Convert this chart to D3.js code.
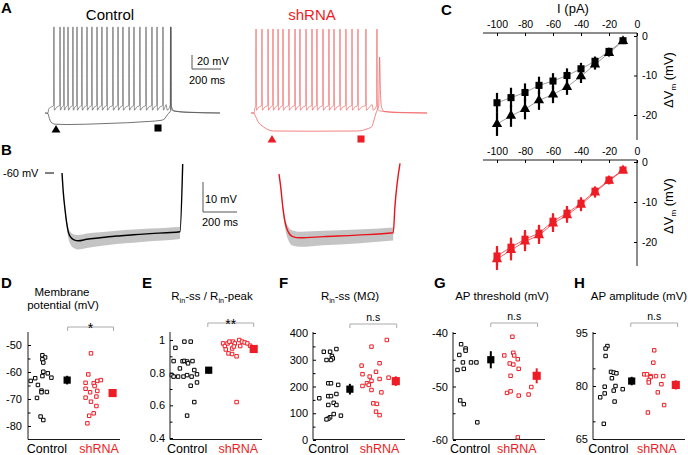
<!DOCTYPE html>
<html><head><meta charset="utf-8">
<script src="https://cdn.jsdelivr.net/npm/d3@7/dist/d3.min.js"></script>
<style>
html,body{margin:0;padding:0;background:#fff;}
svg{display:block;}
text{font-family:"Liberation Sans",Arial,Helvetica,sans-serif;}
</style></head>
<body><svg width="688" height="455"></svg>
<script>
// ===================== DATA =====================
// A: current-clamp sweeps. spike times in ms after step onset
const aCtrlSpikes=[41,83,110,138,172,200,234,269,303,338,372,407,448,483,517,559,593,634,676,717,752,793];
const aCtrlOffsetSpike=845;
const aShSpikes=[14,55,97,131,166,200,241,283,317,359,400,434,476,517,552,593,634,676,717,772];
const aShOffsetSpike=848;
const aRest=-60, aThresh=-49, aAHP=-56, aPeakCtrl=63, aPeakSh=60;
const aCtrlEnd=1186, aShEnd=1193;
// hyperpolarised sweeps [ms],[mV]
const aCtrlHyperT=[-20,0,7,21,50,130,400,700,780,805,825,840,846,848,850,870,950,1186];
const aCtrlHyperV=[-60,-61,-66,-73,-76,-76.5,-75,-72,-70.5,-68,-62,-58.5,-56,63,-50,-57,-59,-60];
const aShHyperT=[-20,0,7,30,64,133,400,708,790,812,834,845,860,866,872,880,900,1000,1193];
const aShHyperV=[-60,-60,-63,-73,-79.6,-85.7,-86,-85.7,-82,-79.6,-65.3,-58,-50,20,-30,-52,-58,-59.5,-60];

// B: averaged responses (mean, sem)
const bCtrlT=[0,8,18,28,37,51,71,96,145,224,322,420,518,616,694,710];
const bCtrlV=[-60,-66.7,-72.3,-76.8,-79.6,-81.4,-82.3,-82.6,-82.1,-81.6,-81.0,-80.6,-80.2,-79.9,-79.6,-57];
const bCtrlSem=[0,0.3,0.8,1.3,1.7,2.1,2.3,2.4,2.4,2.3,2.2,2.2,2.1,2.1,2.0,0];
const bShT=[0,10,22,35,54,80,124,261,457,672,682,712];
const bShV=[-60.4,-64.6,-71.2,-76.2,-79.6,-81.2,-81.6,-81.2,-80.7,-79.9,-71.2,-56.8];
const bShSem=[0,0.4,1.0,1.6,2.2,2.5,2.5,2.4,2.3,2.2,0,0];

// C: I-V relations
const ivCurrents=[-100,-90,-80,-70,-60,-50,-40,-30,-20,-10];
const ivCtrlSq=[-16.9,-15.6,-14.3,-12.5,-11.4,-10.0,-8.3,-6.4,-3.9,-1.2];
const ivCtrlSqErr=[2.5,2.5,2.3,2.2,2.0,1.8,1.5,1.2,0.8,0.6];
const ivCtrlTri=[-22.3,-20.2,-18.5,-16.3,-14.8,-12.9,-10.2,-7.2,-4.3,-1.3];
const ivCtrlTriErr=[3.0,2.8,2.6,2.4,2.2,2.0,1.7,1.3,0.9,0.6];
const ivShSq=[-23.5,-21.3,-19.3,-17.8,-14.8,-12.8,-10.3,-7.3,-4.5,-2.0];
const ivShSqErr=[2.5,2.4,2.3,2.1,2.0,1.8,1.5,1.2,0.9,0.6];
const ivShTri=[-24.3,-22.0,-19.9,-18.3,-15.4,-13.3,-10.7,-7.6,-4.7,-2.1];
const ivShTriErr=[2.7,2.6,2.4,2.2,2.1,1.9,1.6,1.3,0.9,0.6];
const ivTicksX=[-100,-80,-60,-40,-20,0];
const ivTicksY=[0,-10,-20];

// D-H: individual cells (value) + horizontal jitter (0-10 units), group mean and sem
const groups=["Control","shRNA"];
const dCtrl=[-63.3,-62.3,-53.8,-54.6,-55.3,-56.5,-64.8,-61.5,-59.9,-60.5,-62.1,-69.6,-66.9,-67.5,-67.4,-76.5,-77.8];
const dCtrlJit=[0.3,0.8,1.6,1.9,1.6,1.7,1.1,1.6,1.7,2.2,2.6,1.0,1.5,1.5,2.1,1.4,1.7];
const dSh=[-53.1,-60.9,-64.0,-64.2,-66.2,-63.3,-63.0,-65.2,-67.5,-69.1,-67.0,-69.5,-71.0,-72.6,-75.3,-76.2,-79.0];
const dShJit=[7.0,6.7,6.4,7.3,6.4,7.7,8.1,7.4,6.9,7.6,7.7,6.4,7.0,7.6,7.3,6.8,6.6];
const dMean=[-63.0,-67.8], dSem=[1.6,1.3];
const dTicks=[-50,-60,-70,-80], dMinor=[-55,-65,-75];

const eCtrl=[0.99,0.99,0.952,0.871,0.87,0.872,0.868,0.871,0.826,0.857,0.816,0.785,0.776,0.776,0.776,0.785,0.776,0.79,0.74,0.72,0.62,0.537];
const eCtrlJit=[1.6,2.3,0.6,0.4,1.4,1.6,1.9,2.5,1.1,2.0,2.7,0.2,0.4,0.9,1.5,1.9,2.4,3.0,3.0,2.3,2.7,1.9];
const eSh=[0.979,0.963,0.979,0.99,0.99,0.979,1.0,0.99,0.985,0.979,0.963,0.948,0.942,0.918,0.914,0.90,0.96,0.965,0.62];
const eShJit=[5.9,6.1,6.4,6.6,7.0,7.2,7.7,8.0,8.3,8.6,7.8,6.9,6.2,6.5,6.9,7.4,7.1,8.9,7.4];
const eMean=[0.815,0.945], eSem=[0.02,0.015];
const eTicks=[1,0.8,0.6,0.4], eMinor=[0.9,0.7,0.5];

const fCtrl=[156,330,330,314,305,299,299,340,212,212,206,164,164,172,139,131,131,91,97,85,80,77];
const fCtrlJit=[0.7,1.2,1.9,2.1,2.2,1.5,2.0,2.6,1.7,2.0,2.8,1.7,2.0,2.6,2.3,1.7,2.6,3.1,2.3,1.9,1.7,1.5];
const fSh=[374,349,278,287,246,237,255,212,221,228,233,206,187,178,137,135,106,93,202];
const fShJit=[8.2,6.5,5.4,7.4,5.5,6.3,7.0,6.0,6.5,7.4,8.4,6.2,6.5,7.6,6.7,7.1,7.0,7.4,5.5];
const fMean=[190,220], fSem=[20,18];
const fTicks=[400,300,200,100,0], fMinor=[350,250,150,50];

const gCtrl=[-42.1,-42.9,-43.3,-44.1,-45.5,-45.5,-45.5,-46.9,-46.7,-52.6,-53.3,-56.7];
const gCtrlJit=[0.9,1.4,1.4,0.7,1.1,2.0,2.6,0.5,1.2,0.8,1.2,2.7];
const gSh=[-40.7,-43.7,-44.2,-44.2,-44.9,-45.7,-45.9,-46.7,-48.0,-51.2,-50.9,-51.7,-50.1,-51.5,-59.5];
const gShJit=[6.6,6.7,6.8,5.7,7.2,6.3,6.7,7.3,6.4,6.0,6.4,7.3,8.7,8.4,7.2];
const gMean=[-45.0,-48.0], gSem=[1.6,1.4];
const gTicks=[-40,-50,-60], gMinor=[-45,-55];

const hCtrl=[91.3,90.6,88.5,84.0,83.8,83.6,82.2,79.8,80.0,78.7,79.1,77.9,76.8,75.6,69.3];
const hCtrlJit=[1.6,1.4,1.4,2.0,2.3,2.6,2.1,1.3,2.5,2.3,3.3,1.3,0.8,2.4,1.2];
const hSh=[90.1,86.6,83.3,83.3,82.8,82.5,82.8,81.7,81.0,82.8,80.5,78.2,74.6,72.5];
const hShJit=[6.8,6.7,5.7,6.0,6.4,6.4,7.0,6.2,6.2,7.8,7.6,7.2,7.9,6.1];
const hMean=[81.4,80.3], hSem=[1.2,1.3];
const hTicks=[95,80,65], hMinor=[85,70];

// ===================== DRAW =====================
const svg=d3.select("svg");
const RED="#ee1c24", TRED="#f05a5a", GRAY="#c4c4c4";
const zip=(a,b)=>a.map((d,i)=>[d,b[i]]);

function label(x,y,s,o={}){
  return svg.append("text").attr("x",x).attr("y",y).text(s)
    .attr("font-size",o.size||11).attr("font-weight",o.bold?"bold":null)
    .attr("fill",o.fill||"#000").attr("text-anchor",o.anchor||"start");
}
function rich(parent,x,y,parts,size,anchor,rot){
  const t=parent.append("text").attr("x",x).attr("y",y).attr("font-size",size)
     .attr("text-anchor",anchor||"middle");
  if(rot) t.attr("transform",`rotate(-90,${x},${y})`);
  let sub=false;
  parts.forEach(p=>{
    const isSub=p[1]===true;
    const ts=t.append("tspan").text(p[0]);
    if(isSub&&!sub){ts.attr("dy",size*0.25).attr("font-size",size*0.62);}
    if(!isSub&&sub){ts.attr("dy",-size*0.25);}
    sub=isSub;
  });
  return t;
}
// panel letters
[["A",1,13],["B",1,155],["C",441,15],["D",1,288],["E",142,288],["F",279,288],["G",434,288],["H",574,288]]
 .forEach(l=>label(l[1],l[2],l[0],{size:15,bold:true}));

// ---------- A ----------
label(110,20,"Control",{size:15,anchor:"middle"});
label(312,20,"shRNA",{size:15,anchor:"middle",fill:RED});
const yA=d3.scaleLinear().domain([-60,0]).range([113,71]);
const xAC=d3.scaleLinear().domain([0,1000]).range([48,193]);
const xAS=d3.scaleLinear().domain([0,1000]).range([254,399]);
function spiking(spikes,offset,end,peak){
  const p=[[-20,aRest],[0,aRest],[5,aAHP+2]];
  spikes.forEach((t,i)=>{
    const prev=i===0?5:spikes[i-1]+3;
    if(t-1.5-prev>6) p.push([prev+(t-1.5-prev)*0.4,aAHP+(aThresh-aAHP)*0.6]);
    p.push([t-1.5,aThresh],[t,peak],[t+1.2,-30],[t+3,aAHP]);
  });
  const last=spikes[spikes.length-1]+3;
  p.push([(last+815)/2,aAHP+4],[815,aThresh+1],[822,aAHP]);
  p.push([offset-2,aThresh],[offset,peak],[offset+1.5,-35],[offset+4,-55],[offset+30,-57.5],[offset+150,-59],[end,aRest]);
  return p;
}
function trace(xs,pts,color,w){
  svg.append("path").attr("d",d3.line().x(d=>xs(d[0])).y(d=>yA(d[1])).curve(d3.curveMonotoneX)(pts))
   .attr("fill","none").attr("stroke",color).attr("stroke-width",w);
}
trace(xAC,zip(aCtrlHyperT,aCtrlHyperV),"#444",0.75);
trace(xAC,spiking(aCtrlSpikes,aCtrlOffsetSpike,aCtrlEnd,aPeakCtrl),"#555",0.65);
trace(xAS,zip(aShHyperT,aShHyperV),TRED,0.75);
trace(xAS,spiking(aShSpikes,aShOffsetSpike,aShEnd,aPeakSh),TRED,0.65);
const tri=d3.symbol().type(d3.symbolTriangle).size(34)(), sq=d3.symbol().type(d3.symbolSquare).size(50)();
svg.append("path").attr("d",tri).attr("transform","translate(56,130)").attr("fill","#000");
svg.append("path").attr("d",sq).attr("transform","translate(158,128)").attr("fill","#000");
svg.append("path").attr("d",tri).attr("transform","translate(272,140)").attr("fill",RED);
svg.append("path").attr("d",sq).attr("transform","translate(361,139)").attr("fill",RED);
// scale bar A
svg.append("path").attr("d","M192,55V69H221").attr("fill","none").attr("stroke","#555").attr("stroke-width",1);
label(197,65,"20 mV",{size:11});
label(189,84,"200 ms",{size:11});

// ---------- B ----------
const yB=d3.scaleLinear().domain([-60,-70]).range([173,203]);
const xBC=d3.scaleLinear().domain([0,1000]).range([62,232]);
const xBS=d3.scaleLinear().domain([0,1000]).range([279,449]);
function avgTrace(xs,T,V,S,color){
  const pts=T.map((t,i)=>({t,v:V[i],s:S[i]}));
  const band=pts.filter((d,i)=>i<pts.length-1 && (d.s>0||i===0));
  svg.append("path").attr("d",d3.area().x(d=>xs(d.t)).y0(d=>yB(d.v-d.s*1.2)).y1(d=>yB(d.v+d.s*0.8)).curve(d3.curveMonotoneX)(band))
    .attr("fill",GRAY);
  svg.append("path").attr("d",d3.line().x(d=>xs(d.t)).y(d=>yB(d.v)).curve(d3.curveMonotoneX)(pts))
    .attr("fill","none").attr("stroke",color).attr("stroke-width",1.4);
}
avgTrace(xBC,bCtrlT,bCtrlV,bCtrlSem,"#000");
avgTrace(xBS,bShT,bShV,bShSem,"#e8141b");
label(3,177,"-60 mV",{size:11});
svg.append("line").attr("x1",45).attr("x2",54).attr("y1",yB(-60)).attr("y2",yB(-60)).attr("stroke","#000");
svg.append("path").attr("d","M203,182V212H237").attr("fill","none").attr("stroke","#555").attr("stroke-width",1);
label(205,203,"10 mV",{size:11});
label(202,226,"200 ms",{size:11});

// ---------- C ----------
const xC=d3.scaleLinear().domain([-100,0]).range([497,637]);
label(573,13,"I (pA)",{size:13,anchor:"middle"});
function ivPanel(yS,axisY,yBot,sets,color,labY){
  const g=svg.append("g");
  g.append("line").attr("x1",483).attr("x2",637).attr("y1",axisY).attr("y2",axisY).attr("stroke","#000").attr("stroke-width",0.9);
  g.append("line").attr("x1",637).attr("x2",637).attr("y1",axisY).attr("y2",yBot).attr("stroke","#000").attr("stroke-width",0.9);
  const ax=g.append("g").attr("transform",`translate(0,${axisY})`)
    .call(d3.axisTop(xC).tickValues(ivTicksX).tickFormat(d=>String(d)).tickSizeInner(-3).tickSizeOuter(0).tickPadding(5));
  const ay=g.append("g").attr("transform","translate(637,0)")
    .call(d3.axisRight(yS).tickValues(ivTicksY).tickFormat(d=>String(d)).tickSizeInner(-3).tickSizeOuter(0).tickPadding(5));
  [ax,ay].forEach(a=>{a.select(".domain").remove();a.attr("font-size",10.5).attr("font-family",null);a.selectAll("text").attr("fill","#000");a.selectAll("line").attr("stroke","#000");});
  sets.forEach(s=>{
    const pts=ivCurrents.map((c,i)=>({c,v:s.v[i],e:s.e[i]}));
    g.append("path").attr("d",d3.line().x(d=>xC(d.c)).y(d=>yS(d.v))(pts)).attr("fill","none").attr("stroke",color==="#000"?"#777":color).attr("stroke-width",0.7);
  });
  sets.forEach(s=>{
    const pts=ivCurrents.map((c,i)=>({c,v:s.v[i],e:s.e[i]}));
    g.selectAll(null).data(pts).join("line").attr("x1",d=>xC(d.c)).attr("x2",d=>xC(d.c))
      .attr("y1",d=>yS(d.v-d.e)).attr("y2",d=>yS(d.v+d.e)).attr("stroke",color).attr("stroke-width",2.2);
  });
  sets.forEach(s=>{
    const pts=ivCurrents.map((c,i)=>({c,v:s.v[i]}));
    const sym=d3.symbol().type(s.tri?d3.symbolTriangle:d3.symbolSquare).size(s.tri?46:50)();
    g.selectAll(null).data(pts).join("path").attr("d",sym)
      .attr("transform",d=>`translate(${xC(d.c)},${yS(d.v)})`).attr("fill",color);
  });
  rich(g,673,labY,[["ΔV"],["m",true],[" (mV)"]],13,"middle",true);
}
ivPanel(d3.scaleLinear().domain([-20,0]).range([115,36]),33,140,
  [{v:ivCtrlTri,e:ivCtrlTriErr,tri:true},{v:ivCtrlSq,e:ivCtrlSqErr}],"#000",80);
ivPanel(d3.scaleLinear().domain([-20,0]).range([242,162]),160,266,
  [{v:ivShTri,e:ivShTriErr,tri:true},{v:ivShSq,e:ivShSqErr}],RED,206);

// ---------- D-H ----------
function scatterPanel(p){
  const g=svg.append("g");
  const x=d3.scaleLinear().domain([0,10]).range([p.ax,p.ax+90]);
  const y=d3.scaleLinear().domain(p.dom).range(p.rng);
  g.append("line").attr("x1",p.ax).attr("x2",p.ax).attr("y1",332).attr("y2",439.5).attr("stroke","#000").attr("stroke-width",0.9);
  g.append("line").attr("x1",p.ax).attr("x2",p.ax+92).attr("y1",439.5).attr("y2",439.5).attr("stroke","#000").attr("stroke-width",0.9);
  const a=g.append("g").attr("transform",`translate(${p.ax},0)`)
    .call(d3.axisLeft(y).tickValues(p.ticks).tickFormat(d=>String(d)).tickSizeInner(-3).tickSizeOuter(0).tickPadding(p.pad||5));
  const m=g.append("g").attr("transform",`translate(${p.ax},0)`)
    .call(d3.axisLeft(y).tickValues(p.minor).tickFormat("").tickSizeInner(-2.5).tickSizeOuter(0));
  [a,m].forEach(q=>{q.select(".domain").remove();q.attr("font-size",11).attr("font-family",null);q.selectAll("text").attr("fill","#000");q.selectAll("line").attr("stroke","#000");});
  p.title(g);
  const bx0=x(p.br[0]), bx1=x(p.br[1]);
  g.append("path").attr("d",`M${bx0},${p.bry+4}V${p.bry}H${bx1}V${p.bry+4}`).attr("fill","none").attr("stroke","#aaa").attr("stroke-width",1);
  g.append("text").attr("x",(bx0+bx1)/2).attr("y",p.sig==="n.s"?p.bry-3:p.bry+6).attr("text-anchor","middle")
    .attr("font-size",p.sig==="n.s"?10.5:14).text(p.sig);
  const sq=d3.symbol().type(d3.symbolSquare).size(12)();
  g.selectAll(null).data(zip(p.c,p.cj)).join("path").attr("d",sq)
    .attr("transform",d=>`translate(${x(d[1])},${y(d[0])})`).attr("fill","#fff").attr("stroke","#000").attr("stroke-width",1);
  g.selectAll(null).data(zip(p.s,p.sj)).join("path").attr("d",sq)
    .attr("transform",d=>`translate(${x(d[1])},${y(d[0])})`).attr("fill","#fff").attr("stroke",RED).attr("stroke-width",1);
  [[0,"#000",52],[1,RED,66]].forEach(([i,col,sz])=>{
    const cx=x(p.mx[i]);
    g.append("line").attr("x1",cx).attr("x2",cx).attr("y1",y(p.mean[i]-p.sem[i])).attr("y2",y(p.mean[i]+p.sem[i])).attr("stroke",col).attr("stroke-width",2);
    g.append("path").attr("d",d3.symbol().type(d3.symbolSquare).size(sz)()).attr("transform",`translate(${cx},${y(p.mean[i])})`).attr("fill",col);
  });
  g.append("text").attr("x",x(p.lx[0])).attr("y",453).attr("text-anchor","middle").attr("font-size",12.5).text(groups[0]);
  g.append("text").attr("x",x(p.lx[1])).attr("y",453).attr("text-anchor","middle").attr("font-size",12.5).attr("fill",RED).text(groups[1]);
}
const TS=11.5;
scatterPanel({ax:28,dom:[-80,-50],rng:[426,345],ticks:dTicks,minor:dMinor,pad:6,
  c:dCtrl,cj:dCtrlJit,s:dSh,sj:dShJit,mean:dMean,sem:dSem,mx:[4.35,9.4],lx:[2.1,7.9],br:[4.4,9.5],bry:327,sig:"*",
  title:g=>{rich(g,62,296,[["Membrane"]],TS);rich(g,63,309,[["potential (mV)"]],TS);}});
scatterPanel({ax:170,dom:[0.4,1],rng:[438,340],ticks:eTicks,minor:eMinor,
  c:eCtrl,cj:eCtrlJit,s:eSh,sj:eShJit,mean:eMean,sem:eSem,mx:[4.3,9.3],lx:[1.9,7.6],br:[4.2,9.3],bry:323,sig:"**",
  title:g=>rich(g,212,300,[["R"],["in",true],["-ss / R"],["in",true],["-peak"]],TS)});
scatterPanel({ax:313,dom:[0,400],rng:[440,333],ticks:fTicks,minor:fMinor,
  c:fCtrl,cj:fCtrlJit,s:fSh,sj:fShJit,mean:fMean,sem:fSem,mx:[4.1,9.2],lx:[1.7,7.4],br:[4.1,9.3],bry:324,sig:"n.s",
  title:g=>rich(g,350,300,[["R"],["in",true],["-ss (MΩ)"]],TS)});
scatterPanel({ax:453,dom:[-60,-40],rng:[440,333],ticks:gTicks,minor:gMinor,
  c:gCtrl,cj:gCtrlJit,s:gSh,sj:gShJit,mean:gMean,sem:gSem,mx:[4.2,9.3],lx:[1.9,7.1],br:[4.2,9.4],bry:323,sig:"n.s",
  title:g=>rich(g,502,300,[["AP threshold (mV)"]],TS)});
scatterPanel({ax:593,dom:[65,95],rng:[439,333],ticks:hTicks,minor:hMinor,
  c:hCtrl,cj:hCtrlJit,s:hSh,sj:hShJit,mean:hMean,sem:hSem,mx:[4.3,9.2],lx:[1.7,7.1],br:[4.2,9.4],bry:323,sig:"n.s",
  title:g=>rich(g,639,300,[["AP amplitude (mV)"]],TS)});
</script></body></html>
